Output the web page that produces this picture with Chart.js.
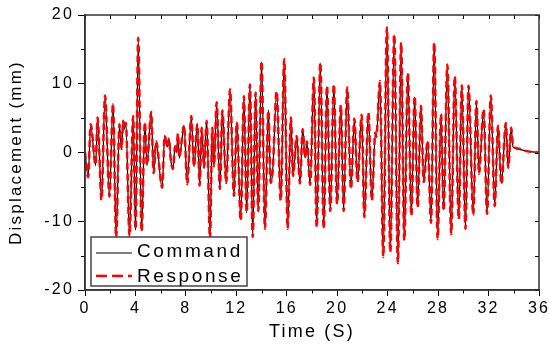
<!DOCTYPE html>
<html><head><meta charset="utf-8">
<script src="https://cdn.jsdelivr.net/npm/chart.js@4/dist/chart.umd.min.js"></script>
<style>html,body{margin:0;padding:0;background:#fff;}#wrap{width:549px;height:349px;}</style>
</head><body><div id="wrap"><canvas id="c" width="549" height="349"></canvas></div>
<script>
const seriesNames = ['Command', 'Response'];
const xTitle = 'Time (S)';
const yTitle = 'Displacement (mm)';
const xTickLabels = [0, 4, 8, 12, 16, 20, 24, 28, 32, 36];
const yTickLabels = [-20, -10, 0, 10, 20];

const timeS = [0.00,0.25,0.45,0.84,1.00,1.31,1.59,1.94,2.22,2.47,2.73,2.90,3.03,3.14,3.24,3.53,3.82,4.01,4.22,4.49,
4.75,4.91,5.25,5.44,5.64,6.12,6.32,6.52,6.66,6.80,6.98,7.14,7.25,7.37,7.48,7.67,7.85,8.11,8.43,8.64,
8.91,9.09,9.25,9.44,9.65,9.91,10.10,10.23,10.44,10.70,10.89,11.20,11.50,11.81,12.04,12.35,12.60,12.82,13.08,13.30,
13.53,13.74,14.00,14.27,14.54,14.72,14.88,15.20,15.52,15.80,16.07,16.33,16.50,16.78,17.05,17.26,17.45,17.60,17.85,18.15,
18.37,18.66,18.93,19.19,19.45,19.73,19.99,20.29,20.51,20.79,21.09,21.36,21.61,21.94,22.15,22.47,22.75,23.02,23.10,23.39,
23.65,23.94,24.21,24.52,24.81,25.07,25.32,25.60,25.88,26.14,26.38,26.64,26.86,27.17,27.44,27.69,27.96,28.23,28.44,28.73,
29.04,29.32,29.64,29.88,30.17,30.41,30.79,31.04,31.24,31.61,31.88,32.18,32.49,32.75,33.02,33.37,33.56,33.80,33.94,34.30,
35.00,36.00];

const commandMM = [0.0,-3.5,4.0,-1.9,5.2,-6.9,8.2,-6.5,7.2,-12.3,4.0,0.4,4.7,3.4,4.4,-12.2,5.2,-11.3,16.5,-11.4,
4.3,-1.9,6.0,-2.9,1.5,-5.2,2.5,0.8,2.1,-1.1,-2.3,0.8,0.0,2.8,-0.8,1.6,4.0,-4.5,5.2,-2.1,
4.2,-4.7,3.5,-2.1,4.7,-12.4,3.5,-2.1,7.2,-5.2,6.2,-4.5,9.1,-6.2,4.5,-9.8,8.1,-8.8,9.8,-12.2,
8.8,-8.4,13.2,-11.0,6.2,-4.5,-2.8,8.8,-6.9,13.5,-11.0,5.2,-3.5,2.3,-4.4,3.5,-0.8,1.5,-4.6,10.8,
-10.8,13.0,-11.0,9.6,-8.4,9.8,-7.4,6.8,-8.4,9.4,-5.2,4.8,-4.2,5.4,-9.3,5.7,-6.9,2.8,2.2,10.3,
-15.1,18.1,-14.4,17.1,-16.0,15.9,-12.7,11.5,-9.1,8.1,-7.9,6.7,-4.2,1.6,-10.1,15.9,-12.5,5.5,-8.4,12.7,
-11.8,11.0,-9.6,9.7,-11.0,9.6,-9.0,7.4,-3.0,6.2,-8.8,8.2,-7.7,3.8,-4.5,4.2,-2.3,3.5,0.8,0.5,
0.2,0.0];

const responseMM = [0.0,-3.6,4.1,-1.8,5.1,-6.9,8.3,-6.4,7.1,-12.4,4.1,0.5,4.6,3.5,4.3,-12.1,5.3,-11.2,16.7,-11.5,
4.4,-1.8,5.9,-3.0,1.6,-5.1,2.4,0.9,2.0,-1.0,-2.4,0.9,0.1,2.7,-0.7,1.7,3.9,-4.6,5.3,-2.0,
4.1,-4.8,3.6,-2.2,4.6,-12.5,3.6,-2.0,7.3,-5.3,6.1,-4.4,9.2,-6.3,4.4,-9.9,8.2,-8.7,9.9,-12.3,
8.7,-8.5,13.3,-11.1,6.1,-4.4,-2.7,8.9,-7.0,13.6,-11.1,5.1,-3.4,2.4,-4.5,3.4,-0.7,1.6,-4.7,10.9,
-10.9,13.1,-11.1,9.7,-8.5,9.9,-7.5,6.9,-8.5,9.5,-5.3,4.9,-4.3,5.5,-9.4,5.8,-7.0,2.9,2.3,10.4,
-15.2,18.2,-14.5,17.2,-16.1,16.0,-12.8,11.6,-9.2,8.2,-8.0,6.8,-4.3,1.7,-10.2,16.0,-12.6,5.6,-8.5,12.8,
-11.9,11.1,-9.7,9.8,-11.1,9.7,-9.1,7.5,-3.1,6.3,-8.9,8.3,-7.8,3.9,-4.6,4.3,-2.2,3.6,1.0,0.6,
0.2,0.0];

const FONT = '"Liberation Sans", Arial, Helvetica, sans-serif';
Chart.defaults.font.family = FONT;
Chart.defaults.color = '#000';

function toPoints(xs, ys) { return xs.map((x, i) => ({ x: x, y: ys[i] })); }

const framePlugin = {
  id: 'frame',
  beforeDraw(chart) { chart.ctx.letterSpacing = '2.2px'; },
  beforeDatasetsDraw(chart) { chart.ctx.letterSpacing = '0px'; },
  afterDatasetsDraw(chart) {
    const ctx = chart.ctx, ca = chart.chartArea;
    const xs = chart.scales.x, ys = chart.scales.y;
    ctx.save();
    ctx.letterSpacing = '0px';
    ctx.strokeStyle = '#000';
    ctx.lineWidth = 1;
    ctx.beginPath();
    for (let v = xs.min; v <= xs.max + 1e-9; v += 2) {
      const px = Math.round(xs.getPixelForValue(v)) + 0.5;
      if (Math.round(v) % 4 !== 0) { ctx.moveTo(px, ca.bottom); ctx.lineTo(px, ca.bottom + 3.5); }
      ctx.moveTo(px, ca.top); ctx.lineTo(px, ca.top + 4);
    }
    for (let v = ys.min; v <= ys.max + 1e-9; v += 5) {
      const py = Math.round(ys.getPixelForValue(v)) + 0.5;
      if (Math.round(v) % 10 !== 0) { ctx.moveTo(ca.left, py); ctx.lineTo(ca.left - 4, py); }
      ctx.moveTo(ca.right, py); ctx.lineTo(ca.right - 4, py);
    }
    ctx.stroke();
    ctx.strokeStyle = '#333';
    ctx.lineWidth = 1.5;
    ctx.strokeRect(ca.left, ca.top, ca.right - ca.left, ca.bottom - ca.top);
    ctx.restore();
  },
  afterDraw(chart) {
    const ctx = chart.ctx, ca = chart.chartArea;
    const bx = ca.left + 6, by = ca.bottom - 53, bw = 156, bh = 49;
    ctx.save();
    ctx.fillStyle = '#fff';
    ctx.fillRect(bx, by, bw, bh);
    ctx.strokeStyle = '#444';
    ctx.lineWidth = 1.5;
    ctx.strokeRect(bx, by, bw, bh);
    const rows = [by + 16, by + 39];
    const order = [1, 0];
    order.forEach((di, r) => {
      const ds = chart.data.datasets[di];
      const y = rows[r];
      ctx.beginPath();
      ctx.strokeStyle = ds.borderColor;
      ctx.lineWidth = di === 0 ? 2.5 : 1;
      ctx.setLineDash(di === 0 ? [11, 5] : []);
      ctx.moveTo(bx + 5, y);
      ctx.lineTo(bx + 41, y);
      ctx.stroke();
      ctx.setLineDash([]);
      ctx.fillStyle = '#000';
      ctx.font = '19px ' + FONT;
      ctx.letterSpacing = '2.6px';
      ctx.textBaseline = 'alphabetic';
      ctx.textAlign = 'left';
      ctx.fillText(ds.label, bx + 46, y + (r === 0 ? 4 : 5.5));
    });
    ctx.restore();
  }
};

new Chart(document.getElementById('c'), {
  type: 'line',
  data: {
    datasets: [
      { label: seriesNames[1], data: toPoints(timeS, responseMM), borderColor: '#ff0000', borderWidth: 2.5,
        borderDash: [7, 4], pointRadius: 0, cubicInterpolationMode: 'monotone', order: 0 },
      { label: seriesNames[0], data: toPoints(timeS, commandMM), borderColor: '#000000', borderWidth: 1.2,
        pointRadius: 0, cubicInterpolationMode: 'monotone', order: 1 }
    ]
  },
  options: {
    responsive: false,
    animation: false,
    devicePixelRatio: 1,
    layout: { padding: { left: 0, right: 10, top: 15, bottom: 0 } },
    plugins: { legend: { display: false }, tooltip: { enabled: false } },
    scales: {
      x: {
        type: 'linear', min: 0, max: 36,
        afterBuildTicks: s => { s.ticks = xTickLabels.map(v => ({ value: v })); },
        afterFit: s => { s.height = 59; s.paddingLeft = 0; s.paddingRight = 0; },
        ticks: { font: { size: 16 }, color: '#000', padding: 3, maxRotation: 0, autoSkip: false,
                 callback: v => String(v) },
        grid: { drawOnChartArea: false, drawTicks: true, tickLength: 6, tickColor: '#000', tickWidth: 1 },
        border: { display: true, color: '#333', width: 1.5 },
        title: { display: true, text: xTitle, font: { size: 18 }, color: '#000', padding: { top: 0, bottom: 6 } }
      },
      y: {
        type: 'linear', min: -20, max: 20,
        afterBuildTicks: s => { s.ticks = yTickLabels.map(v => ({ value: v })); },
        afterFit: s => { s.width = 85; s.paddingTop = 0; s.paddingBottom = 0; },
        ticks: { font: { size: 16 }, color: '#000', padding: 4, callback: v => String(v) },
        grid: { drawOnChartArea: false, drawTicks: true, tickLength: 7, tickColor: '#000', tickWidth: 1 },
        border: { display: true, color: '#333', width: 1.5 },
        title: { display: true, text: yTitle, font: { size: 17 }, color: '#000', padding: { top: 6, bottom: 0 } }
      }
    }
  },
  plugins: [framePlugin]
});
</script>
</body></html>
